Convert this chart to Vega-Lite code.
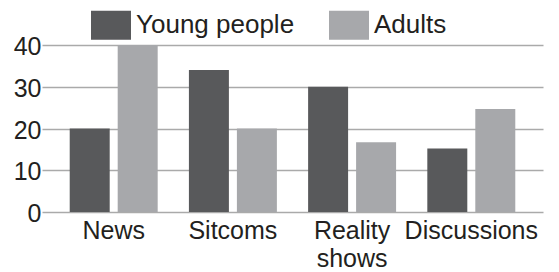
{
  "$schema": "https://vega.github.io/schema/vega-lite/v6.json",
  "autosize": {"type": "none"},
  "width": 501,
  "height": 167,
  "padding": {"left": 42, "top": 45, "right": 16, "bottom": 60},
  "background": "#ffffff",
  "config": {
    "view": {"stroke": null},
    "font": "Liberation Sans"
  },
  "data": {
    "values": [
      {"genre": "News", "group": "Young people", "value": 20},
      {"genre": "News", "group": "Adults", "value": 40},
      {"genre": "Sitcoms", "group": "Young people", "value": 34},
      {"genre": "Sitcoms", "group": "Adults", "value": 20},
      {"genre": "Reality shows", "group": "Young people", "value": 30},
      {"genre": "Reality shows", "group": "Adults", "value": 16.7},
      {"genre": "Discussions", "group": "Young people", "value": 15.2},
      {"genre": "Discussions", "group": "Adults", "value": 24.7}
    ]
  },
  "mark": {"type": "bar"},
  "encoding": {
    "x": {
      "field": "genre",
      "type": "nominal",
      "sort": ["News", "Sitcoms", "Reality shows", "Discussions"],
      "scale": {"paddingInner": 0.262, "paddingOuter": 0.2325},
      "axis": {
        "title": null,
        "domain": false,
        "ticks": false,
        "labelAngle": 0,
        "labelFontSize": 25,
        "labelColor": "#231f20",
        "labelPadding": 6,
        "labelLineHeight": 28,
        "labelLimit": 0,
        "labelExpr": "datum.label == 'Reality shows' ? ['Reality', 'shows'] : datum.label"
      }
    },
    "xOffset": {
      "field": "group",
      "type": "nominal",
      "sort": ["Young people", "Adults"],
      "scale": {"paddingInner": 0.1667, "paddingOuter": 0}
    },
    "y": {
      "field": "value",
      "type": "quantitative",
      "scale": {"domain": [0, 40], "nice": false},
      "axis": {
        "title": null,
        "values": [0, 10, 20, 30, 40],
        "domain": false,
        "ticks": false,
        "grid": true,
        "gridColor": "#aaaaaa",
        "gridWidth": 1.5,
        "labelFontSize": 25,
        "labelColor": "#231f20",
        "labelPadding": 1,
        "labelOffset": 1.5
      }
    },
    "color": {
      "field": "group",
      "type": "nominal",
      "sort": ["Young people", "Adults"],
      "scale": {"domain": ["Young people", "Adults"], "range": ["#58595b", "#a7a8ab"]},
      "legend": {
        "title": null,
        "orient": "none",
        "legendX": 49,
        "legendY": -40,
        "direction": "horizontal",
        "padding": 0,
        "symbolType": "M-1,-0.725H1V0.725H-1Z",
        "symbolSize": 1600,
        "symbolStrokeWidth": 0,
        "symbolOpacity": 1,
        "labelFontSize": 26,
        "labelColor": "#231f20",
        "labelOffset": 5,
        "columnPadding": 34,
        "labelLimit": 0
      }
    }
  }
}
